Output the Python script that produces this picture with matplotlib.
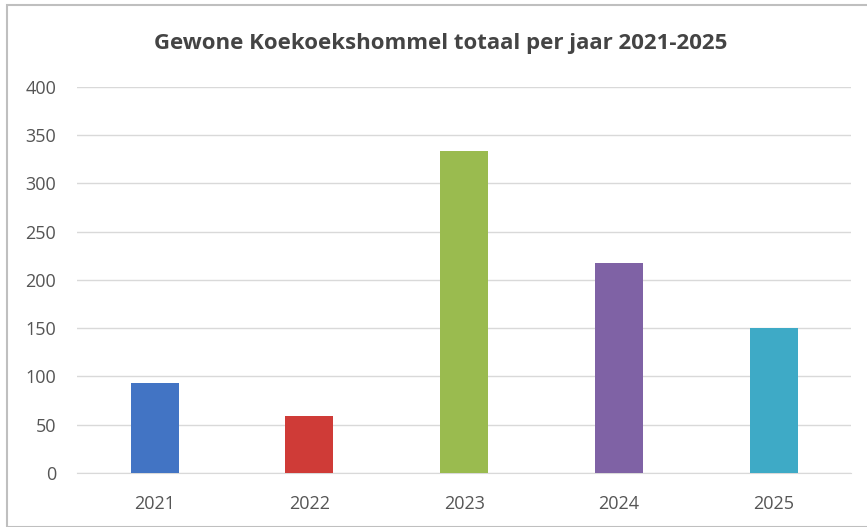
import matplotlib.pyplot as plt
from matplotlib.patches import Rectangle

years = ['2021', '2022', '2023', '2024', '2025']
counts = [93, 59, 334, 218, 150]
colors = ['#4274c4', '#cf3b37', '#9abb4f', '#7f62a5', '#3eaac6']

plt.rcParams['font.family'] = ['Open Sans', 'DejaVu Sans']

fig = plt.figure(figsize=(8.67, 5.27), dpi=100)
ax = fig.add_axes([0.089, 0.1025, 0.893, 0.7325])

ax.bar(range(len(years)), counts, width=0.31, color=colors, zorder=3)
ax.set_xlim(-0.5, len(years) - 0.5)
ax.set_ylim(0, 400)
ax.set_yticks(range(0, 401, 50))
ax.set_xticks(range(len(years)))
ax.set_xticklabels(years)
ax.grid(axis='y', color='#d9d9d9', linewidth=1, zorder=0)
for s in ['top', 'right', 'left']:
    ax.spines[s].set_visible(False)
ax.spines['bottom'].set_color('#d9d9d9')
ax.tick_params(length=0, labelsize=13, colors='#555555', pad=16)
ax.tick_params(axis='y', pad=15)

fig.text(0.508, 0.918, 'Gewone Koekoekshommel totaal per jaar 2021-2025',
         ha='center', va='center', fontsize=16, fontweight='bold', color='#444444')

fig.patches.append(Rectangle((7 / 867, 0), 1, 1 - 5 / 527, transform=fig.transFigure,
                             fill=False, edgecolor='#bfbfbf', linewidth=1.5))

fig.savefig('out.png', dpi=100)
